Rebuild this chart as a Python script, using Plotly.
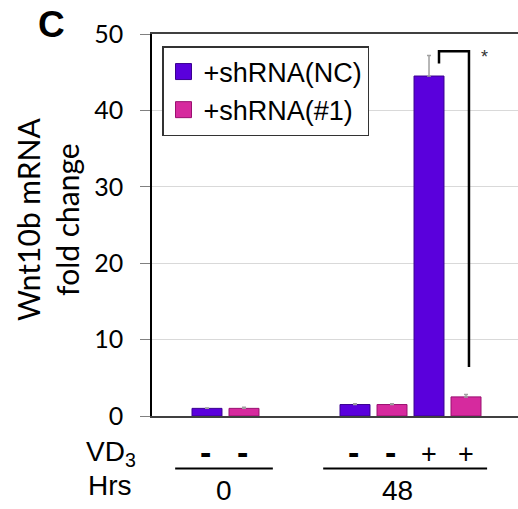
import plotly.graph_objects as go

# ---- data ----
series_names = ["+shRNA(NC)", "+shRNA(#1)"]
cond_hours = ["0", "48", "48"]
cond_vd3 = ["-", "-", "+"]
nc_values = [1.0, 1.5, 44.5]
nc_errors = [0.05, 0.1, 2.7]
sh1_values = [1.0, 1.5, 2.5]
sh1_errors = [0.15, 0.1, 0.3]
y_ticks = [0, 10, 20, 30, 40, 50]
y_title = "Wnt10b mRNA<br>fold change"
panel_label = "C"
sig_label = "*"

# ---- layout helpers ----
nc_slots = [0, 4, 6]
sh1_slots = [1, 5, 7]
c_nc = "#5A00DC"
c_sh1 = "#D62A9E"
bar_w = 0.81

fig = go.Figure()
fig.add_trace(go.Bar(x=nc_slots, y=nc_values, width=bar_w, name=series_names[0],
                     marker=dict(color=c_nc, line=dict(color="#3A0090", width=1)),
                     error_y=dict(type="data", array=nc_errors, arrayminus=[0]*3, symmetric=False,
                                  color="#A0A0A0", thickness=1.5, width=2),
                     showlegend=False))
fig.add_trace(go.Bar(x=sh1_slots, y=sh1_values, width=bar_w, name=series_names[1],
                     marker=dict(color=c_sh1, line=dict(color="#9A1070", width=1)),
                     error_y=dict(type="data", array=sh1_errors, arrayminus=[0]*3, symmetric=False,
                                  color="#A0A0A0", thickness=1.5, width=2),
                     showlegend=False))
# legend entries with larger square swatches
for nm, col, lc in [(series_names[0], c_nc, "#3A0090"), (series_names[1], c_sh1, "#9A1070")]:
    fig.add_trace(go.Scatter(x=[None], y=[None], mode="markers", name=nm,
                             marker=dict(symbol="square", size=19, color=col, line=dict(color=lc, width=1))))


def py(p):
    # pixel row -> paper y
    return (416 - p) / 382.0


def px(p):
    # pixel column -> paper x
    return (p - 152) / 366.0


ann = []
shapes = []
FONT = "Liberation Sans, Arial"
# VD3 signs
all_slots = nc_slots + sh1_slots
all_vd3 = cond_vd3 + cond_vd3
for s, v in zip(all_slots, all_vd3):
    if v == "-":
        ann.append(dict(x=s - 0.05, y=py(452), xref="x", yref="paper", text="<b>-</b>", showarrow=False,
                        font=dict(family=FONT, size=34, color="black"),
                        xanchor="center", yanchor="middle"))
    else:
        ann.append(dict(x=s, y=py(454), xref="x", yref="paper", text="+", showarrow=False,
                        font=dict(family=FONT, size=27, color="black"),
                        xanchor="center", yanchor="middle"))

# hours group labels and underlines
hour_groups = {}
for s, h in zip(all_slots, cond_hours + cond_hours):
    hour_groups.setdefault(h, []).append(s)
for h, ss in hour_groups.items():
    cx = (min(ss) + max(ss)) / 2.0 - (0.35 if len(ss) > 2 else 0.05)
    ann.append(dict(x=cx, y=py(490), xref="x", yref="paper", text=h, showarrow=False,
                    font=dict(family=FONT, size=28, color="black"),
                    xanchor="center", yanchor="middle"))
    lo, hi = min(ss) - 0.86, max(ss) + (0.78 if len(ss) == 2 else 0.57)
    shapes.append(dict(type="line", xref="x", yref="paper", x0=lo, x1=hi, y0=py(468.5), y1=py(468.5),
                       line=dict(color="black", width=2)))

ann.append(dict(x=px(111), y=py(453), xref="paper", yref="paper", text="VD<sub>3</sub>", showarrow=False,
                font=dict(family=FONT, size=28, color="black"),
                xanchor="center", yanchor="middle"))
ann.append(dict(x=px(110), y=py(485), xref="paper", yref="paper", text="Hrs", showarrow=False,
                font=dict(family=FONT, size=28, color="black"),
                xanchor="center", yanchor="middle"))

# panel label and y title
ann.append(dict(x=px(51), y=py(24), xref="paper", yref="paper", text="<b>%s</b>" % panel_label,
                showarrow=False, font=dict(family=FONT, size=37, color="black"),
                xanchor="center", yanchor="middle"))
ann.append(dict(x=px(47), y=py(220), xref="paper", yref="paper", text=y_title, textangle=-90,
                showarrow=False, font=dict(family="Lato", size=30, color="black"),
                xanchor="center", yanchor="middle"))

# significance bracket between NC(+) and #1(+)
xl = nc_slots[2] + 0.27
xr = sh1_slots[2] + 0.08
ytop = nc_values[2] + nc_errors[2] + 0.55
shapes.append(dict(type="path", xref="x", yref="y",
                   path="M %f,%f L %f,%f L %f,%f L %f,%f" % (xl, ytop - 1.6, xl, ytop, xr, ytop, xr, sh1_values[2] + 3.9),
                   line=dict(color="black", width=2.5)))
ann.append(dict(x=sh1_slots[2] + 0.51, y=ytop - 0.8, xref="x", yref="y", text=sig_label, showarrow=False,
                font=dict(family=FONT, size=18, color="#333333"),
                xanchor="center", yanchor="middle"))

fig.update_layout(
    width=518, height=509,
    margin=dict(l=152, r=0, t=34, b=93),
    plot_bgcolor="white", paper_bgcolor="white",
    barmode="overlay",
    showlegend=True,
    legend=dict(x=px(162), y=py(46), xanchor="left", yanchor="top",
                bordercolor="#333333", borderwidth=1.5, bgcolor="white",
                font=dict(family=FONT, size=27, color="black"),
                itemsizing="trace", tracegroupgap=0,
                entrywidth=196, entrywidthmode="pixels"),
    xaxis=dict(range=[-1.486, 8.405], showticklabels=False, ticks="", showgrid=False,
               zeroline=False, showline=True, linecolor="#404040", linewidth=1.5, mirror=True),
    yaxis=dict(range=[0, 50], tickvals=y_ticks, ticks="outside", ticklen=10, tickcolor="#808080",
               tickwidth=1, ticklabelstandoff=12,
               tickfont=dict(family="Lato", size=25, color="black"),
               showgrid=True, gridcolor="#D9D9D9", gridwidth=1, zeroline=False,
               showline=True, linecolor="black", linewidth=1.5),
    annotations=ann, shapes=shapes,
)

fig.write_html("out.html", config={"displayModeBar": False},
               post_script="document.body.style.margin='0px';document.body.style.overflow='hidden';")
